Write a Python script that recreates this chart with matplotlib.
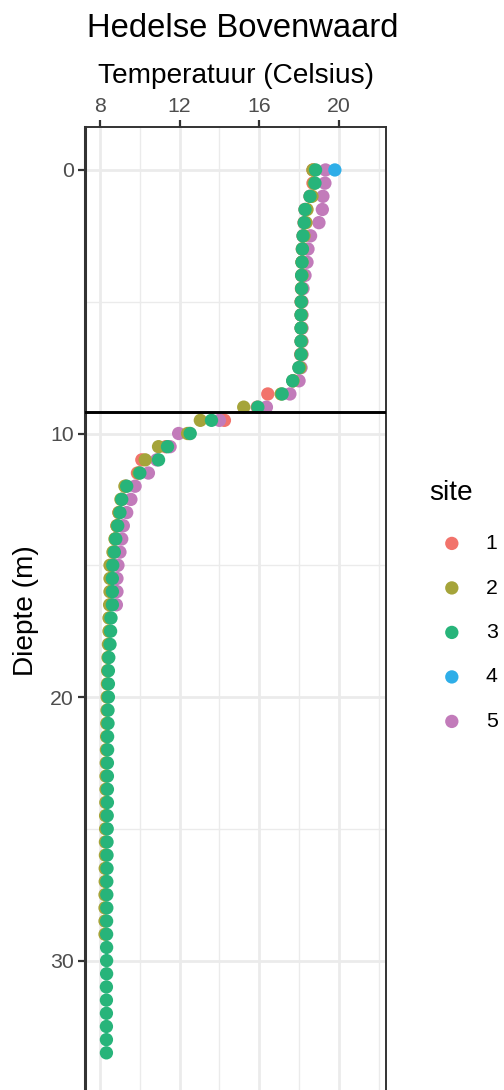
import matplotlib.pyplot as plt
from matplotlib.ticker import MultipleLocator

plt.rcParams['font.family'] = ['Liberation Sans', 'DejaVu Sans']

depth = [0.0, 0.5, 1.0, 1.5, 2.0, 2.5, 3.0, 3.5, 4.0, 4.5,
         5.0, 5.5, 6.0, 6.5, 7.0, 7.5, 8.0, 8.5, 9.0, 9.5,
         10.0, 10.5, 11.0, 11.5, 12.0, 12.5, 13.0, 13.5, 14.0, 14.5,
         15.0, 15.5, 16.0, 16.5, 17.0, 17.5, 18.0, 18.5, 19.0, 19.5,
         20.0, 20.5, 21.0, 21.5, 22.0, 22.5, 23.0, 23.5, 24.0, 24.5,
         25.0, 25.5, 26.0, 26.5, 27.0, 27.5, 28.0, 28.5, 29.0, 29.5,
         30.0, 30.5, 31.0, 31.5, 32.0, 32.5, 33.0, 33.5]

temp_site1 = [18.70, 18.70, 18.55, 18.30, 18.25, 18.20, 18.17, 18.15, 18.13, 18.12,
              18.10, 18.10, 18.10, 18.10, 18.08, 18.00, 17.70, 16.43, 15.90, 14.25,
              12.50, 11.30, 10.10, 9.88, 9.30, 9.10, 8.95, 8.85, 8.78, 8.70,
              8.60, 8.60, 8.58]

temp_site2 = [18.70, 18.75, 18.65, 18.40, 18.35, 18.25, 18.17, 18.15, 18.15, 18.13,
              18.12, 18.12, 18.12, 18.12, 18.12, 18.05, 17.70, 17.10, 15.22, 13.04,
              12.40, 10.94, 10.27, 9.95, 9.25, 9.05, 8.95, 8.85, 8.75, 8.65,
              8.50, 8.50, 8.50, 8.48, 8.45, 8.45, 8.42, 8.40, 8.38, 8.37,
              8.36, 8.35, 8.34, 8.33, 8.32, 8.31, 8.30, 8.30, 8.29, 8.28,
              8.28, 8.27, 8.27, 8.26, 8.26, 8.25, 8.25, 8.25, 8.25]

temp_site3 = [18.83, 18.80, 18.55, 18.30, 18.26, 18.20, 18.17, 18.15, 18.13, 18.13,
              18.11, 18.10, 18.10, 18.10, 18.10, 17.99, 17.68, 17.15, 15.93, 13.60,
              12.53, 11.39, 10.94, 10.00, 9.34, 9.09, 9.00, 8.89, 8.79, 8.72,
              8.64, 8.62, 8.62, 8.62, 8.55, 8.53, 8.50, 8.44, 8.42, 8.42,
              8.42, 8.40, 8.40, 8.38, 8.38, 8.37, 8.37, 8.37, 8.37, 8.36,
              8.36, 8.35, 8.35, 8.35, 8.34, 8.34, 8.34, 8.33, 8.33, 8.33,
              8.33, 8.33, 8.32, 8.32, 8.32, 8.32, 8.32, 8.32]

temp_site4 = [19.80]

temp_site5 = [19.33, 19.30, 19.20, 19.17, 19.00, 18.58, 18.45, 18.40, 18.30, 18.20,
              18.15, 18.15, 18.15, 18.15, 18.15, 18.10, 18.00, 17.54, 16.36, 14.00,
              11.95, 11.52, 10.85, 10.43, 9.76, 9.55, 9.34, 9.17, 9.09, 9.00,
              8.90, 8.85, 8.85, 8.82]

sites = ['1', '2', '3', '4', '5']
site_temps = [temp_site1, temp_site2, temp_site3, temp_site4, temp_site5]
site_colors = ['#F2736B', '#A5A43A', '#27B47A', '#2EAEE8', '#C27BBA']
draw_order = [0, 4, 3, 1, 2]

thermocline_depth = 9.2

fig = plt.figure(figsize=(5.04, 10.90), dpi=100)
# panel runs from y=127 px down to just below the image edge
ax = fig.add_axes([85 / 504, -5 / 1090, 301 / 504, (1095 - 127) / 1090])

handles = {}
for i in draw_order:
    temps = site_temps[i]
    handles[i] = ax.scatter(temps, depth[:len(temps)], s=92, color=site_colors[i],
                            edgecolors='none', zorder=3, label=sites[i])

ax.axhline(thermocline_depth, color='black', linewidth=2.1, zorder=4)

ax.set_xlim(7.244, 22.37)
ax.set_ylim(35.1, -1.63)

ax.xaxis.set_major_locator(MultipleLocator(4))
ax.xaxis.set_minor_locator(MultipleLocator(2))
ax.yaxis.set_major_locator(MultipleLocator(10))
ax.yaxis.set_minor_locator(MultipleLocator(5))
ax.grid(which='major', color='#EBEBEB', linewidth=2.0, zorder=0)
ax.grid(which='minor', color='#EBEBEB', linewidth=1.0, zorder=0)
ax.set_axisbelow(True)

ax.xaxis.tick_top()
ax.tick_params(axis='both', which='major', length=5, width=1.6, color='#333333',
               labelsize=15.3, labelcolor='#4D4D4D')
ax.tick_params(axis='x', which='major', pad=3)
ax.tick_params(axis='y', which='major', pad=3)
ax.tick_params(which='minor', length=0)

for side in ['top', 'right', 'bottom']:
    ax.spines[side].set_color('#333333')
    ax.spines[side].set_linewidth(1.4)
ax.spines['left'].set_color('#333333')
ax.spines['left'].set_linewidth(2.2)

fig.text(243 / 504, 1 - 37 / 1090, 'Hedelse Bovenwaard', ha='center',
         va='baseline', fontsize=23.6, color='black')
fig.text(235.5 / 504, 1 - 83 / 1090, 'Temperatuur (Celsius)', ha='center',
         va='baseline', fontsize=20.2, color='black')
fig.text(26 / 504, 1 - 611 / 1090, 'Diepte (m)', ha='center', va='center',
         rotation=90, fontsize=20.2, color='black')

# legend title drawn separately so its gap to the keys can be set
fig.text(451.5 / 504, 1 - 493 / 1090, 'site', ha='center', va='center',
         fontsize=20.2, color='black')
fig.legend([handles[i] for i in range(5)], sites,
           loc='upper left', bbox_to_anchor=(432.7 / 504, 1 - 525.5 / 1090),
           frameon=False, fontsize=15.3, handletextpad=1.1,
           labelspacing=1.2, handlelength=1.0, borderaxespad=0)

fig.savefig('out.png', dpi=100)
